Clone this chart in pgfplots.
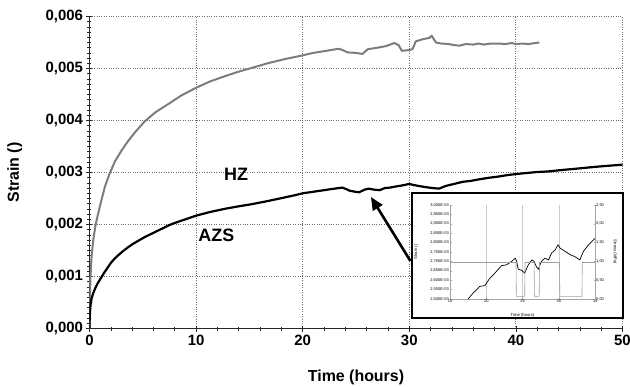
\documentclass[border=0pt]{standalone}
\usepackage{fontspec}
\setmainfont{Liberation Sans}
\usepackage{pgfplots}
\pgfplotsset{compat=1.18}
\usetikzlibrary{arrows.meta}
\definecolor{hzgray}{RGB}{125,125,125}
\definecolor{gridgray}{RGB}{110,110,110}
\begin{document}
\begin{tikzpicture}
\useasboundingbox (-89.5bp,-58.5bp) rectangle (540.5bp,328.5bp);
\begin{axis}[at={(0,0)}, anchor=south west, scale only axis,
  width=533bp, height=312bp,
  xmin=0, xmax=50, ymin=0, ymax=0.006,
  axis lines=left, axis line style={-, line width=0.8bp, black!85},
  xtick={0,10,20,30,40,50},
  ytick={0,0.001,0.002,0.003,0.004,0.005,0.006},
  minor x tick num=4, minor y tick num=9,
  tick align=center, major tick length=6bp, minor tick length=4bp,
  tick style={black!85, line width=0.6bp},
  grid=major, grid style={dotted, line width=0.9bp, gridgray},
  scaled y ticks=false,
  yticklabel style={/pgf/number format/.cd, fixed, fixed zerofill, precision=3, use comma},
  /pgf/number format/assume math mode=true,
  tick label style={font=\fontsize{15}{18}\selectfont\bfseries},
  label style={font=\fontsize{16}{19}\selectfont\bfseries},
  xlabel={Time (hours)}, ylabel={Strain ()},
  xlabel style={at={(axis description cs:0.5,-0.157)}, anchor=center},
  ylabel style={at={(axis description cs:-0.1404,0.5)}, anchor=center},
]
\addplot[hzgray, line width=2bp, line join=round] table {
t s
0 0
0.03 0.0005
0.09 0.00098
0.2 0.0014
0.35 0.0017
0.56 0.00198
0.8 0.0022
1.1 0.00245
1.45 0.00273
1.87 0.00297
2.4 0.00322
3.0 0.00342
3.6 0.00360
4.3 0.00378
5.16 0.00398
6.2 0.00416
7.34 0.00431
8.6 0.00448
10 0.00463
11.3 0.00475
12.66 0.00485
14 0.00494
15.2 0.00501
16.7 0.00510
18.3 0.00518
19.7 0.00524
21 0.00530
22.5 0.00535
23.4 0.00538
23.8 0.00535
24.2 0.00531
25 0.00530
25.6 0.00528
26.1 0.00537
27 0.00540
27.8 0.00543
28.6 0.00549
29.0 0.00545
29.3 0.00534
29.8 0.00535
30.3 0.00537
30.6 0.00552
31.2 0.00556
31.9 0.00559
32.1 0.00563
32.5 0.00550
33.0 0.00548
33.7 0.00547
34.2 0.00545
34.7 0.00544
35.3 0.00547
36 0.00546
36.5 0.00548
37 0.00546
37.6 0.00548
38.4 0.00548
39 0.00547
39.6 0.00549
40 0.00547
40.6 0.00548
41.2 0.00547
41.8 0.00549
42.2 0.00550
};
\addplot[black, line width=2.2bp, line join=round] table {
t s
0 0
0.02 0.00022
0.09 0.00044
0.2 0.00058
0.35 0.00068
0.55 0.00078
0.8 0.00088
1.1 0.00098
1.4 0.00108
1.7 0.00117
2.0 0.00126
2.34 0.00134
2.7 0.00141
3.1 0.00148
3.6 0.00156
4.1 0.00163
4.6 0.00169
5.2 0.00176
5.8 0.00182
6.4 0.00188
7 0.00194
7.5 0.00199
8 0.00203
9 0.00210
10 0.00217
11.3 0.00224
12.65 0.0023
14 0.00235
15.2 0.00239
16.7 0.00245
18.3 0.00252
19.2 0.00256
20 0.0026
21 0.00263
22 0.00266
23 0.00269
23.7 0.00271
24.1 0.00268
24.4 0.00265
24.9 0.00263
25.3 0.00262
25.8 0.00267
26.2 0.00269
26.7 0.00267
27.2 0.00266
27.7 0.00270
28.2 0.00271
28.7 0.00273
29.3 0.00275
30 0.00278
30.4 0.00276
30.9 0.00274
31.5 0.00272
32.2 0.00270
32.8 0.00269
33.4 0.00274
34.2 0.00278
35 0.00282
35.8 0.00284
36.6 0.00287
37.5 0.0029
38.3 0.00292
39.2 0.00295
40 0.00297
41 0.00299
42 0.00301
43 0.00302
44.4 0.00305
45.5 0.00307
46.5 0.00309
47.5 0.00311
48.7 0.00313
50 0.00315
};
\node[font=\fontsize{18}{21}\selectfont\bfseries] at (axis cs:13.75,0.00297) {HZ};
\node[font=\fontsize{18}{21}\selectfont\bfseries] at (axis cs:11.9,0.0018) {AZS};
\draw[-{Triangle[length=13bp,width=11bp]}, line width=2.6bp] (axis cs:30.1,0.0013) -- (axis cs:26.4,0.00253);
\end{axis}
\draw[line width=2bp, fill=white] (322.5bp,10.5bp) rectangle (533.5bp,135bp);
\begin{axis}[at={(360.5bp,29.5bp)}, anchor=south west, scale only axis,
  width=145bp, height=94bp,
  xmin=15, xmax=35, ymin=0.0025, ymax=0.003,
  axis y line*=left, axis x line*=bottom,
  axis line style={-, line width=0.4bp, gray!70},
  xtick={15,20,25,30,35},
  ytick={0.0025,0.00255,0.0026,0.00265,0.0027,0.00275,0.0028,0.00285,0.0029,0.00295,0.003},
  yticklabels={{2,500E-03},{2,550E-03},{2,600E-03},{2,650E-03},{2,700E-03},{2,750E-03},{2,800E-03},{2,850E-03},{2,900E-03},{2,950E-03},{3,000E-03}},
  scaled y ticks=false,
  major tick length=1.5bp, tick style={gray!70, line width=0.3bp},
  xmajorgrids, grid style={line width=0.3bp, gray!40},
  /pgf/number format/assume math mode=true,
  tick label style={font=\fontsize{4}{5}\selectfont, inner sep=1bp},
  label style={font=\fontsize{4.2}{5}\selectfont},
  xlabel={Time (hours)}, ylabel={Strain ()},
  xlabel style={at={(axis description cs:0.5,-0.17)}, anchor=center},
  ylabel style={at={(axis description cs:-0.234,0.5)}, anchor=center},
]
\addplot[black, line width=0.7bp] table {
t s
17.5 0.0025
18.2 0.002532
18.7 0.00255
19.1 0.002567
19.8 0.002571
20.5 0.002611
21.2 0.002638
21.7 0.00266
22.1 0.002677
22.8 0.002682
23.5 0.0027
24.0 0.002717
24.2 0.0027
24.4 0.002659
24.9 0.002652
25.3 0.002638
25.8 0.002682
26.3 0.002708
26.6 0.0027
26.9 0.002673
27.2 0.002659
27.6 0.0027
28.1 0.002717
28.6 0.002708
29.0 0.002744
29.5 0.002761
29.9 0.002788
30.2 0.00277
30.9 0.002753
31.6 0.002735
32.2 0.002726
32.9 0.002708
33.4 0.002753
34.1 0.002788
35 0.002823
};
\end{axis}
\begin{axis}[at={(360.5bp,29.5bp)}, anchor=south west, scale only axis,
  width=145bp, height=94bp,
  xmin=15, xmax=35, ymin=0, ymax=2.5,
  axis y line*=right, axis x line=none,
  axis line style={-, line width=0.4bp, gray!70},
  ytick={0,0.5,1,1.5,2,2.5},
  yticklabel style={/pgf/number format/.cd, fixed, fixed zerofill, precision=2, use comma},
  /pgf/number format/assume math mode=true,
  major tick length=1.5bp, tick style={gray!70, line width=0.3bp},
  tick label style={font=\fontsize{4}{5}\selectfont, inner sep=1bp},
  label style={font=\fontsize{4.2}{5}\selectfont},
  ylabel={Stress (MPa)},
  ylabel style={at={(axis description cs:1.138,0.5)}, anchor=center, rotate=180},
]
\addplot[gray!75, line width=0.6bp] table {
t p
15 0.97
24.1 0.97
24.15 0.07
25.3 0.07
25.35 0.97
26.6 0.97
26.65 0.07
27.3 0.07
27.35 0.97
30.1 0.97
30.15 0.07
33.2 0.07
33.25 0.97
35 0.97
};
\end{axis}
\end{tikzpicture}
\end{document}
